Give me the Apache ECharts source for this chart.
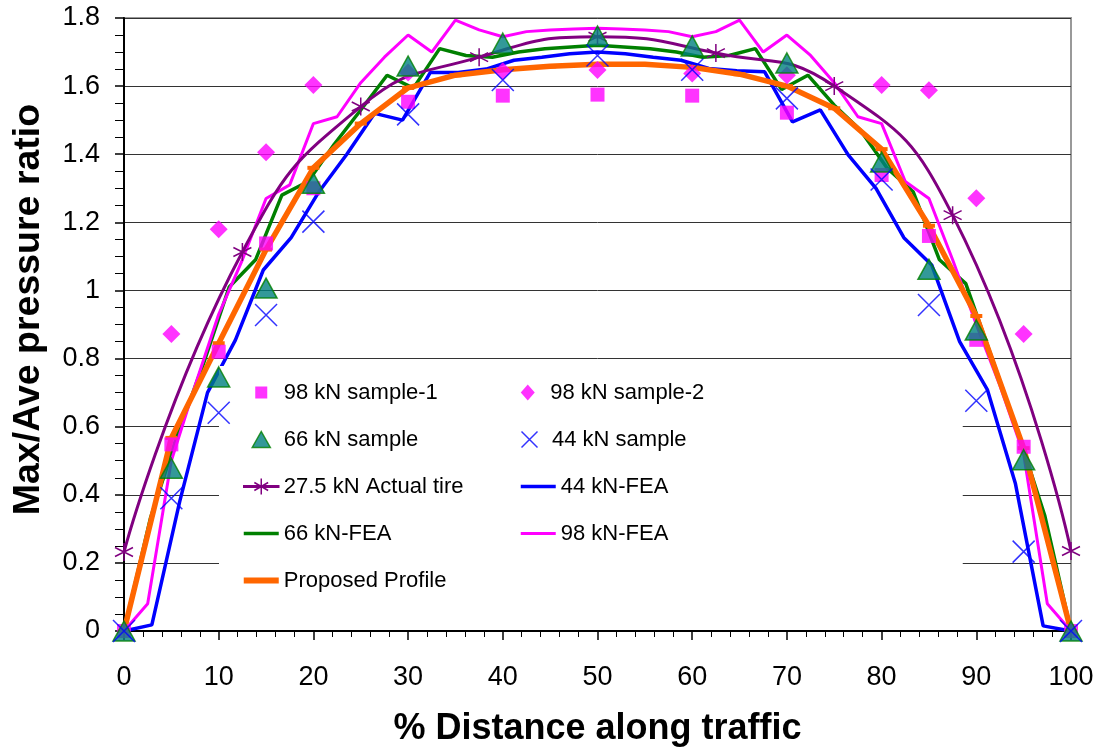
<!DOCTYPE html>
<html><head><meta charset="utf-8">
<script src="https://cdn.jsdelivr.net/npm/echarts@6/dist/echarts.min.js"></script>
<style>html,body{margin:0;padding:0;background:#fff}#c{width:1100px;height:747px}</style>
</head><body><div id="c"></div>
<script>
// ---- data ----
const sampleX  = [0,5,10,15,20,30,40,50,60,70,80,85,90,95,100];
const s98_1    = [0,0.548,0.82,1.138,1.30,1.554,1.572,1.575,1.572,1.522,1.339,1.16,0.855,0.541,0];
const sample2X = [5,10,15,20,30,40,50,60,70,80,85,90,95];
const s98_2    = [0.872,1.18,1.406,1.603,1.64,1.644,1.647,1.637,1.632,1.603,1.588,1.271,0.872];
const s66      = [0,0.478,0.746,1.007,1.315,1.659,1.726,1.747,1.718,1.668,1.377,1.062,0.884,0.503,0];
const s44      = [0,0.39,0.641,0.928,1.202,1.517,1.618,1.69,1.648,1.564,1.326,0.957,0.676,0.233,0];

const tireX    = [0,12.5,25,37.5,50,62.5,75,87.5,100];
const tire     = [0.232,1.113,1.54,1.685,1.745,1.697,1.60,1.221,0.235];

const fea44X   = [0,2.94,5.88,8.82,11.76,14.71,17.65,20.59,23.53,26.47,29.41,32.35,35.29,38.24,41.18,44.12,47.06,50,
                  52.94,55.88,58.82,61.76,64.71,67.65,70.59,73.53,76.47,79.41,82.35,85.29,88.24,91.18,94.12,97.06,100];
const fea44    = [0,0.018,0.38,0.70,0.854,1.06,1.155,1.29,1.40,1.52,1.50,1.64,1.64,1.65,1.676,1.685,1.695,1.70,
                  1.695,1.685,1.676,1.652,1.645,1.642,1.495,1.53,1.398,1.30,1.155,1.075,0.85,0.708,0.434,0.015,0];

const fea66X   = [0,2.78,5.56,8.33,11.11,13.89,16.67,19.44,22.22,25,27.78,30.56,33.33,36.11,38.89,41.67,44.44,47.22,50,
                  52.78,55.56,58.33,61.11,63.89,66.67,69.44,72.22,75,77.78,80.56,83.33,86.11,88.89,91.67,94.44,97.22,100];
const fea66    = [0,0.33,0.57,0.78,1.01,1.09,1.28,1.32,1.43,1.53,1.632,1.594,1.71,1.69,1.685,1.70,1.71,1.715,1.72,
                  1.715,1.71,1.70,1.685,1.69,1.71,1.59,1.632,1.544,1.47,1.36,1.29,1.09,1.02,0.80,0.58,0.34,0];

const fea98X   = [0,2.5,5,7.5,10,12.5,15,17.5,20,22.5,25,27.5,30,32.5,35,37.5,40,42.5,45,47.5,50,
                  52.5,55,57.5,60,62.5,65,67.5,70,72.5,75,77.5,80,82.5,85,87.5,90,92.5,95,97.5,100];
const fea98    = [0,0.08,0.50,0.72,0.93,1.09,1.27,1.31,1.49,1.51,1.61,1.685,1.75,1.70,1.794,1.765,1.745,1.76,1.765,1.768,1.77,
                  1.768,1.765,1.76,1.745,1.76,1.794,1.70,1.75,1.69,1.61,1.51,1.49,1.32,1.27,1.09,0.90,0.72,0.52,0.08,0];

const propX    = [0,5,10,15,20,25,30,35,40,45,50,55,60,65,70,75,80,85,90,95,100];
const prop     = [0,0.567,0.845,1.12,1.36,1.49,1.595,1.632,1.648,1.658,1.664,1.664,1.655,1.635,1.60,1.535,1.415,1.19,0.925,0.537,0];

const names = ['98 kN sample-1','98 kN sample-2','66 kN sample','44 kN sample','27.5 kN Actual tire',
               '44 kN-FEA','66 kN-FEA','98 kN-FEA','Proposed Profile'];

const zip = (xs, ys) => xs.map((x, i) => [x, ys[i]]);
const FONT = "'Liberation Sans', Arial, sans-serif";
const X_PATH = 'path://M0 0L10 10M10 0L0 10';
const STAR_PATH = 'path://M5 0L5 10M0.7 2.5L9.3 7.5M0.7 7.5L9.3 2.5';

// legend icons (style only)
const ICON_SQUARE = 'path://M-2 -2L-2 -2M0 0H12V12H0ZM14 14L14 14';
const ICON_DIAMOND = 'path://M7 0L14 8L7 16L0 8Z';
const ICON_TRI = 'path://M0 15L8.5 0L17 15Z';
const ICON_STAR = 'path://M0 7.25H35V8.75H0ZM17.5 0V16M10.6 4L24.4 12M10.6 12L24.4 4';
const lineIcon = w => 'path://M0 0H35V' + w + 'H0Z';

const chart = echarts.init(document.getElementById('c'), null, {renderer: 'canvas'});
chart.setOption({
  animation: false,
  backgroundColor: '#fff',
  grid: {left: 124, right: 29, top: 18, bottom: 116, show: true, borderColor: '#999', borderWidth: 2,
         containLabel: false, outerBoundsMode: 'none'},
  legend: {
    left: 219, top: 366, orient: 'horizontal', width: 600,
    padding: [8, 175, 8, 24], backgroundColor: '#fff',
    itemWidth: 35, itemHeight: 16, itemGap: 10, symbolKeepAspect: true,
    textStyle: {fontSize: 22, fontFamily: FONT, color: '#000', width: 227, lineHeight: 37},
    data: [
      {name: names[0], icon: ICON_SQUARE, itemStyle: {color: '#FF00FF', borderWidth: 0}},
      {name: names[1], icon: ICON_DIAMOND, itemStyle: {color: '#FF00FF', borderWidth: 0}},
      {name: names[2], icon: ICON_TRI, itemStyle: {color: '#008080', borderColor: '#008000', borderWidth: 1.5}},
      {name: names[3], icon: X_PATH, itemStyle: {color: '#0000FF', borderColor: '#0000FF', borderWidth: 1.5}},
      {name: names[4], icon: ICON_STAR, itemStyle: {color: '#800080', borderColor: '#800080', borderWidth: 1.5}},
      {name: names[5], icon: lineIcon(3.5), itemStyle: {color: '#0000FF', borderWidth: 0}},
      {name: names[6], icon: lineIcon(3.5), itemStyle: {color: '#008000', borderWidth: 0}},
      {name: names[7], icon: lineIcon(3.2), itemStyle: {color: '#FF00FF', borderWidth: 0}},
      {name: names[8], icon: lineIcon(6), itemStyle: {color: '#FF6600', borderWidth: 0}}
    ]
  },
  xAxis: {
    type: 'value', min: 0, max: 100, interval: 10,
    axisLine: {show: true, onZero: false, lineStyle: {color: '#000', width: 2}},
    axisTick: {show: true, length: 9, lineStyle: {color: '#000', width: 1.5}},
    minorTick: {show: true, splitNumber: 5, length: 6, lineStyle: {color: '#000', width: 1}},
    splitLine: {show: false},
    axisLabel: {fontSize: 27, color: '#000', fontFamily: FONT, margin: 33},
    name: '% Distance along traffic', nameLocation: 'middle', nameGap: 80,
    nameTextStyle: {fontSize: 36, fontWeight: 'bold', color: '#000', fontFamily: FONT}
  },
  yAxis: {
    type: 'value', min: 0, max: 1.8, interval: 0.2,
    axisLine: {show: true, onZero: false, lineStyle: {color: '#000', width: 2}},
    axisTick: {show: true, length: 9, lineStyle: {color: '#000', width: 1.5}},
    minorTick: {show: true, splitNumber: 4, length: 9, lineStyle: {color: '#000', width: 1}},
    splitLine: {show: true, lineStyle: {color: '#333', width: 1}},
    axisLabel: {fontSize: 27, color: '#000', fontFamily: FONT, margin: 24},
    name: 'Max/Ave pressure ratio', nameLocation: 'middle', nameGap: 76,
    nameTextStyle: {fontSize: 37.5, fontWeight: 'bold', color: '#000', fontFamily: FONT, padding: [0, 0, 0, 30]}
  },
  series: [
    {name: names[0], type: 'scatter', z: 5, data: zip(sampleX, s98_1), symbol: 'rect', symbolSize: 14,
     itemStyle: {color: '#FF00FF'}},
    {name: names[1], type: 'scatter', z: 5, data: zip(sample2X, s98_2), symbol: 'diamond', symbolSize: 18,
     itemStyle: {color: '#FF00FF'}},
    {name: names[2], type: 'scatter', z: 5, data: zip(sampleX, s66), symbol: 'triangle', symbolSize: [22, 20],
     itemStyle: {color: '#008080', borderColor: '#008000', borderWidth: 1.5}},
    {name: names[3], type: 'scatter', z: 5, data: zip(sampleX, s44), symbol: X_PATH, symbolSize: 22,
     itemStyle: {color: '#0000FF', borderColor: '#0000FF', borderWidth: 1.5}},
    {name: names[4], type: 'line', z: 4, data: zip(tireX, tire), smooth: 0.5, symbol: STAR_PATH, symbolSize: 18,
     showAllSymbol: true, lineStyle: {color: '#800080', width: 3},
     itemStyle: {color: '#800080', borderColor: '#800080', borderWidth: 1.5}},
    {name: names[5], type: 'line', z: 3, data: zip(fea44X, fea44), symbol: 'none',
     lineStyle: {color: '#0000FF', width: 3.5}, itemStyle: {color: '#0000FF'}},
    {name: names[6], type: 'line', z: 3, data: zip(fea66X, fea66), symbol: 'none',
     lineStyle: {color: '#008000', width: 3.5}, itemStyle: {color: '#008000'}},
    {name: names[7], type: 'line', z: 3, data: zip(fea98X, fea98), symbol: 'none',
     lineStyle: {color: '#FF00FF', width: 3}, itemStyle: {color: '#FF00FF'}},
    {name: names[8], type: 'line', z: 3, data: zip(propX, prop), symbol: 'rect', symbolSize: [12, 4],
     showAllSymbol: true, lineStyle: {color: '#FF6600', width: 5.5}, itemStyle: {color: '#FF6600'}}
  ]
});
</script></body></html>
